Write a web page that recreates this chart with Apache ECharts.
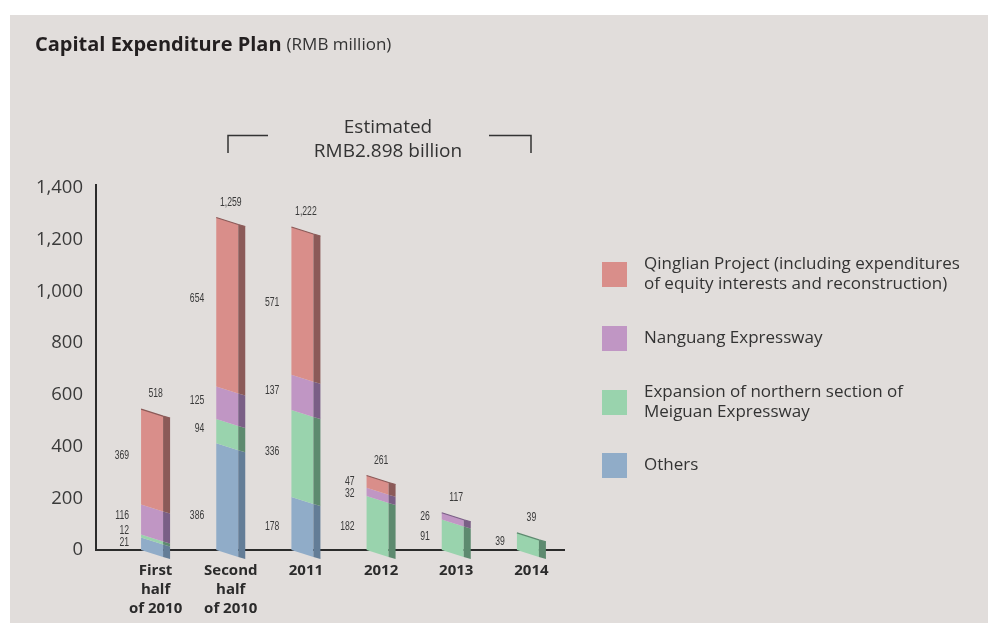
<!DOCTYPE html>
<html>
<head>
<meta charset="utf-8">
<script src="https://cdn.jsdelivr.net/npm/echarts@6/dist/echarts.min.js"></script>
<style>
  html, body { margin: 0; padding: 0; background: #fff; }
  #chart { width: 988px; height: 623px; }
</style>
</head>
<body>
<div id="chart"></div>
<script>
// Capital expenditure plan, RMB million, stacked bottom to top:
// Others, Meiguan expansion, Nanguang, Qinglian
const categories = ['First\nhalf\nof 2010', 'Second\nhalf\nof 2010', '2011', '2012', '2013', '2014'];
const others   = [21, 386, 178, 0, 0, 0];
const meiguan  = [12, 94, 336, 182, 91, 39];
const nanguang = [116, 125, 137, 32, 26, 0];
const qinglian = [369, 654, 571, 47, 0, 0];
const yTicks = [0, 200, 400, 600, 800, 1000, 1200, 1400];

const seriesNames = [
  'Others',
  'Expansion of northern section of\nMeiguan Expressway',
  'Nanguang Expressway',
  'Qinglian Project (including expenditures\nof equity interests and reconstruction)'
];
const stackValues = [others, meiguan, nanguang, qinglian];

// where each segment's value label sits, in axis units
const labelAnchors = [
  [27, 131, 89, null, null, null],
  [73, 468, 379, 89, 50, 31],
  [131, 576, 615, 217, 128, null],
  [363, 971, 955, 263, null, null]
];

const frontColors = ['#90acc8', '#99d3ad', '#c096c4', '#d98e8a'];
const sideColors  = ['#637d97', '#5d8a6f', '#7a5f86', '#8b5a58'];

const SLANT = 7;      // drop of the front face from left to right
const FRONT_W = 22;
const SIDE_W = 7;
const LABEL_FONT = '12px "Liberation Sans", Arial, sans-serif';
const LABEL_SQUEEZE = 0.72;   // narrow the value labels horizontally
const fmt = v => v.toLocaleString('en-US');

const totals = categories.map((_, i) => stackValues.reduce((s, arr) => s + arr[i], 0));

function barGeom(api, i, base, val) {
  const c = api.coord([i, 0])[0];
  const yBase = api.coord([i, base])[1];
  const yTop = api.coord([i, base + val])[1];
  const xl = c - (FRONT_W + SIDE_W) / 2;
  const xm = xl + FRONT_W;
  const xr = xm + SIDE_W;
  const lb = base === 0 ? yBase : yBase - SLANT;
  const rb = base === 0 ? yBase + SLANT : yBase;
  return { c, xl, xm, xr, lt: yTop - SLANT, rt: yTop, lb, rb };
}

function valueText(text, x, y, align) {
  return {
    type: 'text',
    x: x,
    y: y,
    scaleX: LABEL_SQUEEZE,
    style: {
      text: text,
      x: 0,
      y: 0,
      align: align,
      verticalAlign: 'middle',
      font: LABEL_FONT,
      fill: '#3a3a3a'
    }
  };
}

function makeRender(si) {
  return function (params, api) {
    const i = api.value(0);
    const base = api.value(1);
    const val = api.value(2);
    if (!val) return null;
    const g = barGeom(api, i, base, val);
    const children = [
      {
        type: 'polygon',
        shape: { points: [[g.xl, g.lt], [g.xm, g.rt], [g.xm, g.rb], [g.xl, g.lb]] },
        style: { fill: frontColors[si] }
      },
      {
        type: 'polygon',
        shape: { points: [[g.xm, g.rt], [g.xr, g.rt + 2], [g.xr, g.rb + 2], [g.xm, g.rb]] },
        style: { fill: sideColors[si] }
      }
    ];
    if (Math.abs(base + val - totals[i]) < 1e-9) {
      children.push({
        type: 'polyline',
        shape: { points: [[g.xl, g.lt], [g.xm, g.rt], [g.xr, g.rt + 2]] },
        style: { stroke: sideColors[si], lineWidth: 1.2, fill: null }
      });
    }
    const anchor = labelAnchors[si][i];
    if (anchor != null) {
      children.push(valueText(fmt(val), g.xl - 12, api.coord([i, anchor])[1], 'right'));
    }
    return { type: 'group', children };
  };
}

const series = stackValues.map((arr, si) => {
  const data = arr.map((v, i) => {
    let base = 0;
    for (let k = 0; k < si; k++) base += stackValues[k][i];
    return [i, base, v];
  });
  return {
    type: 'custom',
    name: seriesNames[si],
    renderItem: makeRender(si),
    itemStyle: { color: frontColors[si] },
    encode: { x: 0, y: [1, 2] },
    data,
    z: 3
  };
});

series.push({
  type: 'custom',
  name: 'total',
  renderItem: function (params, api) {
    const i = api.value(0);
    const t = api.value(1);
    const g = barGeom(api, i, 0, t);
    return valueText(fmt(t), g.c, g.lt - 15, 'center');
  },
  encode: { x: 0, y: 1 },
  data: totals.map((t, i) => [i, t]),
  z: 4
});

const legendTops = [253.5, 326, 381.5, 453];
const legendOrder = [3, 2, 1, 0];
const legends = legendOrder.map((si, k) => ({
  data: [{ name: seriesNames[si], icon: 'rect', itemStyle: { color: frontColors[si] } }],
  left: 602,
  top: legendTops[k],
  padding: 0,
  itemWidth: 25,
  itemHeight: 25,
  selectedMode: false,
  textStyle: {
    fontFamily: '"Open Sans", sans-serif',
    fontSize: 17,
    lineHeight: 20,
    color: '#333',
    padding: [2, 0, 0, 12]
  }
}));

const chart = echarts.init(document.getElementById('chart'), null, { renderer: 'canvas' });

chart.setOption({
  backgroundColor: '#ffffff',
  animation: false,
  title: {
    left: 35,
    top: 35,
    padding: 0,
    text: '{b|Capital Expenditure Plan} {n|(RMB million)}',
    textStyle: {
      fontWeight: 'normal',
      rich: {
        b: { fontFamily: '"Open Sans", sans-serif', fontWeight: 'bold', fontSize: 20, color: '#231f20' },
        n: { fontFamily: '"Open Sans", sans-serif', fontWeight: 'normal', fontSize: 17, color: '#333' }
      }
    }
  },
  legend: legends,
  grid: { left: 118, width: 451, top: 188, bottom: 73, containLabel: false },
  xAxis: {
    type: 'category',
    data: categories,
    boundaryGap: true,
    axisLine: { show: false },
    axisTick: { show: false },
    axisLabel: {
      margin: 11,
      interval: 0,
      fontFamily: '"Open Sans", sans-serif',
      fontWeight: 'bold',
      fontSize: 15,
      lineHeight: 19,
      color: '#2b2b2b'
    }
  },
  yAxis: {
    type: 'value',
    min: yTicks[0],
    max: yTicks[yTicks.length - 1],
    interval: yTicks[1] - yTicks[0],
    offset: 22,
    splitLine: { show: false },
    axisTick: { show: false },
    axisLine: { show: true, lineStyle: { color: '#2b2b2b', width: 2 } },
    axisLabel: {
      margin: 13,
      formatter: v => fmt(v),
      fontFamily: '"Open Sans", sans-serif',
      fontSize: 18.5,
      color: '#3a3a3a'
    }
  },
  series
});

// panel, baseline, and the bracketed estimate note
const y0 = chart.convertToPixel({ yAxisIndex: 0 }, 0);
const yAxisTop = chart.convertToPixel({ yAxisIndex: 0 }, yTicks[yTicks.length - 1]);
chart.setOption({
  graphic: [
    {
      type: 'rect', z: -10, silent: true,
      shape: { x: 10, y: 15, width: 978, height: 608 },
      style: { fill: '#e1dddb' }
    },
    {
      type: 'line', z: 1, silent: true,
      shape: { x1: 96, y1: yAxisTop - 4, x2: 96, y2: yAxisTop },
      style: { stroke: '#2b2b2b', lineWidth: 2 }
    },
    {
      type: 'line', z: 1, silent: true,
      shape: { x1: 95, y1: y0, x2: 565, y2: y0 },
      style: { stroke: '#2b2b2b', lineWidth: 2 }
    },
    {
      type: 'polyline', z: 1, silent: true,
      shape: { points: [[228, 153], [228, 135.5], [268, 135.5]] },
      style: { stroke: '#333', lineWidth: 1.5, fill: null }
    },
    {
      type: 'polyline', z: 1, silent: true,
      shape: { points: [[489, 135.5], [531, 135.5], [531, 153]] },
      style: { stroke: '#333', lineWidth: 1.5, fill: null }
    },
    {
      type: 'text', z: 1, silent: true,
      style: {
        text: 'Estimated\nRMB2.898 billion',
        x: 388, y: 140,
        align: 'center', verticalAlign: 'middle',
        font: '19px "Open Sans", sans-serif',
        lineHeight: 24,
        fill: '#333'
      }
    }
  ]
});
</script>
</body>
</html>
